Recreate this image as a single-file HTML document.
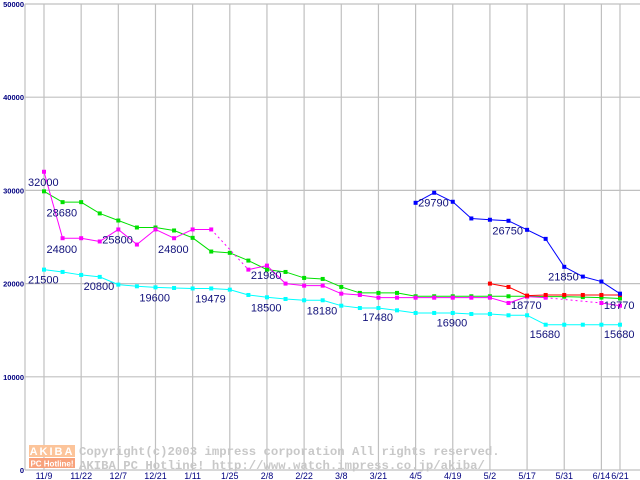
<!DOCTYPE html>
<html><head><meta charset="utf-8"><style>
body{margin:0;background:#fff}
svg{display:block}
text{font-family:"Liberation Sans",sans-serif}
</style></head><body>
<svg id="chart" width="640" height="480" viewBox="0 0 640 480" xmlns="http://www.w3.org/2000/svg">
<g id="grid"></g>
<g id="watermark">
  <rect x="29" y="445" width="46" height="12" fill="#fcc49a"/>
  <text x="52" y="455" font-size="11" font-weight="bold" fill="#fff" text-anchor="middle" letter-spacing="2">AKIBA</text>
  <rect x="29" y="458" width="46" height="10" fill="#f8a27c"/>
  <text x="52" y="466.5" font-size="8" font-weight="bold" fill="#fff" text-anchor="middle">PC Hotline!</text>
  <text x="79" y="455" font-size="12.3" fill="#c8c8c8" font-weight="bold" style="font-family:'Liberation Mono',monospace">Copyright(c)2003 impress corporation All rights reserved.</text>
  <text x="79" y="469" font-size="12.3" fill="#c8c8c8" font-weight="bold" style="font-family:'Liberation Mono',monospace">AKIBA PC Hotline!  http://www.watch.impress.co.jp/akiba/</text>
</g>
<g id="series"></g>
<g id="labels"></g>
</svg>
<script>
const xTickLabels=["11/9","11/22","12/7","12/21","1/11","1/25","2/8","2/22","3/8","3/21","4/5","4/19","5/2","5/17","5/31","6/14","6/21"];
const xTickPos=[0,2,4,6,8,10,12,14,16,18,20,22,24,26,28,30,31];
const yTicks=[0,10000,20000,30000,40000,50000];
const green=[29900,28740,28740,27530,26770,26020,26020,25700,24910,23440,23300,22470,21500,21250,20610,20500,19640,19000,19000,19000,18640,18640,18640,18640,18640,18640,18640,18600,18600,18550,18500,18400];
const magenta=[32000,24870,24870,24520,25810,24190,25810,24870,25810,25810,null,21500,21930,20000,19780,19780,18920,18780,18490,18490,18490,18490,18490,18490,18490,17920,18600,18490,null,null,17920,17630];
const cyan=[21500,21250,20930,20720,19890,19710,19600,19530,19480,19480,19350,18780,18530,18350,18210,18210,17630,17380,17380,17130,16850,16850,16850,16740,16740,16600,16600,15590,15590,15590,15590,15590];
const blue=[null,null,null,null,null,null,null,null,null,null,null,null,null,null,null,null,null,null,null,null,28670,29750,28780,26990,26850,26740,25770,24800,21800,20750,20220,18920];
const red=[null,null,null,null,null,null,null,null,null,null,null,null,null,null,null,null,null,null,null,null,null,null,null,null,20000,19640,18710,18780,18780,18780,18780,18780];
const labelText=["32000","28680","24800","25800","24800","21500","20800","19600","19479","21980","18500","18180","17480","16900","29790","26750","21850","18770","18770","15680","15680"];
const labelIdx=[0,0,0,3,6,0,2,5,8,11,11,14,17,21,20,24,27,25,30,26,30];
const labelVal=[32000,28680,24800,25800,24800,21500,20800,19600,19479,21980,18500,18180,17480,16900,29790,26750,21850,18770,18770,15680,15680];
const labelLeft=[1,0,0,0,0,1,0,0,0,0,0,0,0,0,0,0,0,0,0,0,0];

const NS="http://www.w3.org/2000/svg";
const X=i=>44+i*18.58;
const Y=v=>470-v*0.00932;
function mk(tag,attrs,parent){const e=document.createElementNS(NS,tag);for(const k in attrs)e.setAttribute(k,attrs[k]);parent.appendChild(e);return e;}
const grid=document.getElementById('grid');
yTicks.forEach(v=>{
  const l=mk('line',{x1:25,x2:640,y1:Y(v),y2:Y(v),stroke:'#c0c0c0','stroke-width':1.2},grid);
  
  
  const t=mk('text',{x:24,y:Y(v)+3,'font-size':7.5,'font-weight':'bold',fill:'#000080','text-anchor':'end'},grid);
  t.textContent=v;
  
  
});
const ax=mk('line',{x1:25,x2:25,y1:4,y2:470,stroke:'#c0c0c0','stroke-width':1.2},grid);


xTickPos.forEach((p,k)=>{
  const l=mk('line',{x1:X(p),x2:X(p),y1:4,y2:470,stroke:'#c0c0c0','stroke-width':1.2},grid);
  
  
  const t=mk('text',{x:X(p),y:479,'font-size':9,fill:'#000080','text-anchor':'middle'},grid);
  t.textContent=xTickLabels[k];
  
  
});
const sg=document.getElementById('series');
function drawSeries(vals,color,name){
  const g=mk('g',{},sg);
  
  
  let prev=-1;
  vals.forEach((v,i)=>{
    if(v==null)return;
    if(prev>=0){
      const a={x1:X(prev),y1:Y(vals[prev]),x2:X(i),y2:Y(v),stroke:color,'stroke-width':1};
      if(i-prev>1)a['stroke-dasharray']='2,3';
      const ln=mk('line',a,g);
      
      
    }
    prev=i;
  });
  vals.forEach((v,i)=>{
    if(v==null)return;
    const r=mk('rect',{x:X(i)-2,y:Y(v)-2,width:4,height:4,fill:color},g);
    
    
  });
}
drawSeries(green,'#00e000','green-series');
drawSeries(magenta,'#ff00ff','magenta-series');
drawSeries(cyan,'#00ffff','cyan-series');
drawSeries(red,'#ff0000','red-series');
drawSeries(blue,'#0000ff','blue-series');
const lg=document.getElementById('labels');
labelText.forEach((s,k)=>{
  const t=mk('text',{x:X(labelIdx[k])+(labelLeft[k]?-16:2.5),y:Y(labelVal[k])+14,'font-size':11,fill:'#10107a'},lg);
  t.textContent=s;
  
  
});
</script>
</body></html>
